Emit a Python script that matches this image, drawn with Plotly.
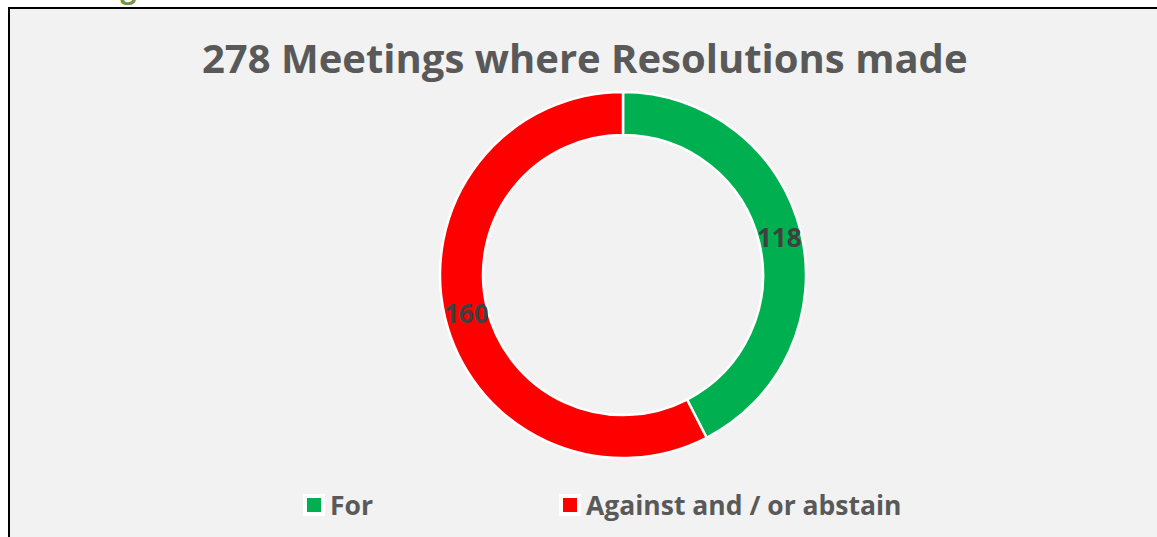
import math
import plotly.graph_objects as go

# ---- data ----
labels = ["For", "Against and / or abstain"]
values = [118, 160]
colors = ["#00B050", "#FF0000"]
title_text = "278 Meetings where Resolutions made"
heading_text = "Meetings where Resolutions made"

W, H = 1157, 537
L, R, T, B = 440, 351, 92, 79
PW = W - L - R
PH = H - T - B
HOLE = 0.765

def px_x(px):
    return (px - L) / PW

def px_y(py):
    return (H - B - py) / PH

FONT = "Open Sans"
TXT = "#595959"

fig = go.Figure(
    go.Pie(
        labels=labels,
        values=values,
        hole=HOLE,
        sort=False,
        direction="clockwise",
        rotation=0,
        marker=dict(colors=colors, line=dict(color="white", width=2.5)),
        textinfo="none",
        hoverinfo="label+value",
        showlegend=False,
        domain=dict(x=[0, 1], y=[0, 1]),
    )
)

annotations = []
shapes = []

# chart area background and its left / top border
shapes.append(dict(
    type="rect", xref="paper", yref="paper",
    x0=px_x(9), x1=px_x(1300), y0=px_y(700), y1=px_y(8),
    fillcolor="#F2F2F2", line=dict(width=0), layer="below",
))
shapes.append(dict(
    type="line", xref="paper", yref="paper",
    x0=px_x(9), x1=px_x(9), y0=px_y(700), y1=px_y(7),
    line=dict(color="black", width=2), layer="below",
))
shapes.append(dict(
    type="line", xref="paper", yref="paper",
    x0=px_x(8), x1=px_x(1300), y0=px_y(8), y1=px_y(8),
    line=dict(color="black", width=2), layer="below",
))

# data labels at the middle of each ring segment
total = sum(values)
r_mid = 0.5 * (1 + HOLE) / 2
cum = 0
for v in values:
    ang = (cum + v / 2) / total * 2 * math.pi
    cum += v
    annotations.append(dict(
        text=str(v), xref="paper", yref="paper",
        x=0.5 + r_mid * math.sin(ang), y=0.5 + r_mid * math.cos(ang),
        xanchor="center", yanchor="middle", showarrow=False,
        font=dict(family=FONT, size=26, color="#404040", weight="bold"),
    ))

# legend (manual, bottom)
legend_text_x = [328, 584]
legend_y = 505
for lab, col, tx in zip(labels, colors, legend_text_x):
    cx = tx - 14
    shapes.append(dict(
        type="rect", xref="paper", yref="paper",
        xsizemode="pixel", ysizemode="pixel",
        xanchor=px_x(cx), yanchor=px_y(legend_y),
        x0=-11, x1=11, y0=-11, y1=11,
        fillcolor="white", line=dict(width=0),
    ))
    shapes.append(dict(
        type="rect", xref="paper", yref="paper",
        xsizemode="pixel", ysizemode="pixel",
        xanchor=px_x(cx), yanchor=px_y(legend_y),
        x0=-7, x1=7, y0=-7, y1=7,
        fillcolor=col, line=dict(width=0),
    ))
    annotations.append(dict(
        text=lab, xref="paper", yref="paper",
        x=px_x(tx), y=px_y(legend_y),
        xanchor="left", yanchor="middle", showarrow=False,
        font=dict(family=FONT, size=26.5, color=TXT, weight="bold"),
    ))

# chart title
annotations.append(dict(
    text=title_text, xref="paper", yref="paper",
    x=px_x(585), y=px_y(57), xanchor="center", yanchor="middle",
    showarrow=False,
    font=dict(family=FONT, size=40, color=TXT, weight="bold"),
))

# page heading above the chart (mostly cut off)
annotations.append(dict(
    text=heading_text, xref="paper", yref="paper",
    x=px_x(20), y=px_y(-13), xanchor="left", yanchor="middle",
    showarrow=False,
    font=dict(family=FONT, size=28, color="#76923C", weight="bold"),
))

fig.update_layout(
    width=W,
    height=H,
    margin=dict(l=L, r=R, t=T, b=B, autoexpand=False),
    paper_bgcolor="white",
    plot_bgcolor="#F2F2F2",
    showlegend=False,
    shapes=shapes,
    annotations=annotations,
)

fig.write_html(
    "out.html",
    config={"displayModeBar": False},
    post_script="document.body.style.margin='0';document.body.style.overflow='hidden';",
)
